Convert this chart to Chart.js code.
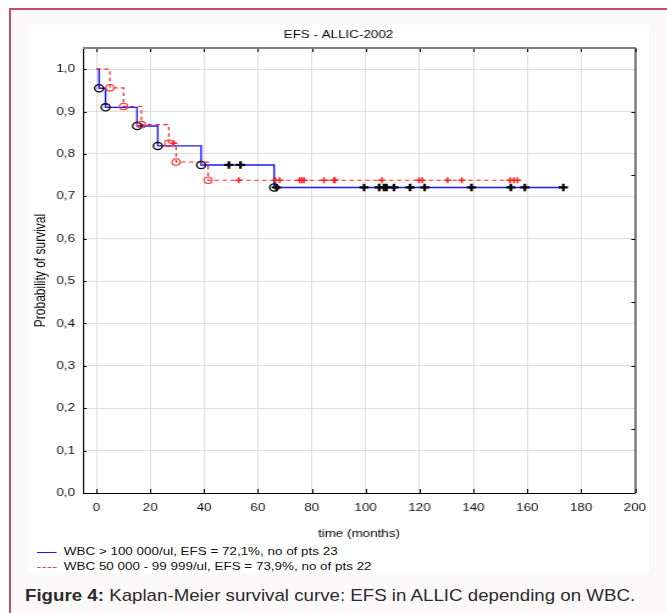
<!DOCTYPE html>
<html>
<head>
<meta charset="utf-8">
<title>EFS - ALLIC-2002</title>
<script src="https://cdn.jsdelivr.net/npm/chart.js@4.4.1/dist/chart.umd.min.js"></script>
<style>
  body { margin: 0; background: #fff; font-family: "Liberation Sans", Arial, sans-serif; }
  .frame {
    position: absolute; left: 9px; top: 8px; width: 680px; height: 640px;
    border: 2px solid #c24d6c; background: #fcf9fa;
  }
  .panel { position: absolute; left: 28px; top: 25px; width: 621px; height: 548px; background: #fff; }
  /* the original figure is stretched horizontally, so the chart is drawn narrower and widened */
  #chart-wrap {
    position: absolute; left: 28px; top: 25px; width: 509px; height: 520px;
    transform: scaleX(1.22); transform-origin: 0 0;
  }
  #km { display: block; }
  .legend {
    position: absolute; left: 37px; font-size: 11px; color: #111; white-space: nowrap;
    transform: scaleX(1.22); transform-origin: 0 0;
  }
  .legend span.sample { display: inline-block; width: 16px; vertical-align: middle; margin-right: 6px; }
  .caption {
    position: absolute; left: 25px; top: 586px; font-size: 17px; color: #2b2b2b; white-space: nowrap;
    transform: scaleX(1.1); transform-origin: 0 0;
  }
</style>
</head>
<body>
<div class="frame"></div>
<div class="panel"></div>
<div id="chart-wrap"><canvas id="km" width="509" height="520"></canvas></div>
<div class="legend" style="top:545px"><span class="sample" style="border-top:1px solid #1a1aff"></span>WBC &gt; 100 000/ul, EFS = 72,1%, no of pts 23</div>
<div class="legend" style="top:560px"><span class="sample" style="border-top:1px dashed #ff4040"></span>WBC 50 000 - 99 999/ul, EFS = 73,9%, no of pts 22</div>
<div class="caption"><b>Figure 4:</b> Kaplan-Meier survival curve: EFS in ALLIC depending on WBC.</div>

<script>
const chartTitle = 'EFS - ALLIC-2002';

// WBC > 100 000/ul : step times and survival after each drop
const blueTimes = [0, 1, 3.4, 15.1, 22.8, 38.9, 66];
const blueSurv = [1.0, 0.955, 0.910, 0.866, 0.819, 0.774, 0.721];
const blueEnd = 173.4;
const blueCensor = [49.2, 53.5, 66.8, 99.4, 105, 106.8, 107.7, 110.5, 116.5, 121.9, 139.3, 153.9, 159.1, 173.4];

// WBC 50 000 - 99 999/ul
const redTimes = [0, 5.0, 10.1, 16.7, 26.9, 29.6, 41.5];
const redSurv = [1.0, 0.956, 0.912, 0.869, 0.825, 0.781, 0.738];
const redEnd = 156.6;
const redCensor = [28.7, 52.9, 66.5, 68.1, 75.5, 76.3, 77.1, 84.5, 88.2, 88.6, 106, 119.8, 121, 130.4, 135.7, 153.6, 155.1, 156.4];

const xTicks = [0, 20, 40, 60, 80, 100, 120, 140, 160, 180, 200];
const yTicks = [0, 0.1, 0.2, 0.3, 0.4, 0.5, 0.6, 0.7, 0.8, 0.9, 1.0];
const rightTicks = [0.15, 0.3, 0.45, 0.6, 0.75, 0.9];

function survAt(times, surv, t) {
  let s = surv[0];
  for (let i = 0; i < times.length; i++) {
    if (times[i] <= t) s = surv[i];
  }
  return s;
}

function stepLine(times, surv, end) {
  const pts = times.map((t, i) => ({ x: t, y: surv[i] }));
  pts.push({ x: end, y: surv[surv.length - 1] });
  return pts;
}

const events = (times, surv) => times.slice(1).map((t, i) => ({ x: t, y: surv[i + 1] }));
const censored = (list, times, surv) => list.map(t => ({ x: t, y: survAt(times, surv, t) }));

// title centred on the whole figure, top/right frame and inward tick marks
const framePlugin = {
  id: 'frame',
  afterDraw(chart) {
    const { ctx, chartArea: a, scales } = chart;
    ctx.save();
    ctx.fillStyle = '#000';
    ctx.font = '11px "Liberation Sans"';
    ctx.textAlign = 'center';
    ctx.textBaseline = 'middle';
    ctx.fillText(chartTitle, chart.width / 2, 9.6);

    ctx.strokeStyle = '#000';
    ctx.lineWidth = 1;
    ctx.beginPath();
    ctx.moveTo(a.right + 0.5, a.top);
    ctx.lineTo(a.right + 0.5, a.bottom);
    ctx.stroke();
    ctx.beginPath();
    xTicks.forEach(v => {
      const x = Math.round(scales.x.getPixelForValue(v)) + 0.5;
      ctx.moveTo(x, a.bottom); ctx.lineTo(x, a.bottom - 4);
      ctx.moveTo(x, a.top); ctx.lineTo(x, a.top + 4);
    });
    yTicks.forEach(v => {
      const y = Math.round(scales.y.getPixelForValue(v)) + 0.5;
      ctx.moveTo(a.left, y); ctx.lineTo(a.left + 3, y);
    });
    rightTicks.forEach(v => {
      const y = Math.round(scales.y.getPixelForValue(v)) + 0.5;
      ctx.moveTo(a.right, y); ctx.lineTo(a.right - 3, y);
    });
    ctx.stroke();
    ctx.strokeStyle = '#7f7f7f';
    ctx.lineWidth = 2;
    ctx.beginPath();
    ctx.moveTo(a.left, a.top);
    ctx.lineTo(a.right + 1, a.top);
    ctx.stroke();
    ctx.restore();
  }
};

const tickFont = { family: 'Liberation Sans', size: 11 };

new Chart(document.getElementById('km').getContext('2d'), {
  type: 'scatter',
  data: {
    datasets: [
      {
        data: stepLine(blueTimes, blueSurv, blueEnd),
        showLine: true, stepped: true,
        borderColor: '#1a1aff', borderWidth: 1.4,
        pointRadius: 0, order: 3
      },
      {
        data: stepLine(redTimes, redSurv, redEnd),
        showLine: true, stepped: true,
        borderColor: '#ff2020', borderWidth: 1.2, borderDash: [3.5, 3],
        pointRadius: 0, order: 2
      },
      {
        data: events(redTimes, redSurv),
        pointStyle: 'circle', pointRadius: 3.3, borderWidth: 1.1,
        borderColor: '#ff3030', backgroundColor: 'rgba(0,0,0,0)', order: 1
      },
      {
        data: events(blueTimes, blueSurv),
        pointStyle: 'circle', pointRadius: 3.6, borderWidth: 1.3,
        borderColor: '#000', backgroundColor: 'rgba(0,0,0,0)', order: 1
      },
      {
        data: censored(redCensor, redTimes, redSurv),
        pointStyle: 'cross', pointRadius: 3, borderWidth: 1.5,
        borderColor: '#ff2020', order: 1
      },
      {
        data: censored(blueCensor, blueTimes, blueSurv),
        pointStyle: 'cross', pointRadius: 3.8, borderWidth: 2.2,
        borderColor: '#000', order: 0
      }
    ]
  },
  options: {
    responsive: false,
    animation: false,
    layout: { padding: { left: 3, right: 11.5, top: 23, bottom: 0 } },
    plugins: {
      legend: { display: false },
      tooltip: { enabled: false },
      title: { display: false }
    },
    scales: {
      x: {
        type: 'linear', min: -5, max: 200,
        afterBuildTicks: s => { s.ticks = xTicks.map(v => ({ value: v })); },
        afterFit: s => { s.height = 52; s.paddingLeft = 0; s.paddingRight = 0; },
        grid: { color: '#dedede', drawTicks: false },
        border: { color: '#000', width: 1 },
        ticks: { color: '#111', font: tickFont, padding: 8, maxRotation: 0 },
        title: { display: true, text: 'time (months)', color: '#000', font: tickFont, padding: { top: 0, bottom: 4 } }
      },
      y: {
        min: 0, max: 1.05,
        afterBuildTicks: s => { s.ticks = yTicks.map(v => ({ value: v })); },
        afterFit: s => { s.width = 42; s.paddingTop = 0; s.paddingBottom = 0; },
        grid: { color: '#dedede', drawTicks: false },
        border: { color: '#000', width: 1 },
        ticks: {
          color: '#111', font: tickFont, padding: 6.5,
          callback: v => v.toFixed(1).replace('.', ',')
        },
        title: { display: true, text: 'Probability of survival', color: '#000', font: { family: 'Liberation Sans', size: 12 }, padding: { top: 0, bottom: 2 } }
      }
    }
  },
  plugins: [framePlugin]
});
</script>
</body>
</html>
